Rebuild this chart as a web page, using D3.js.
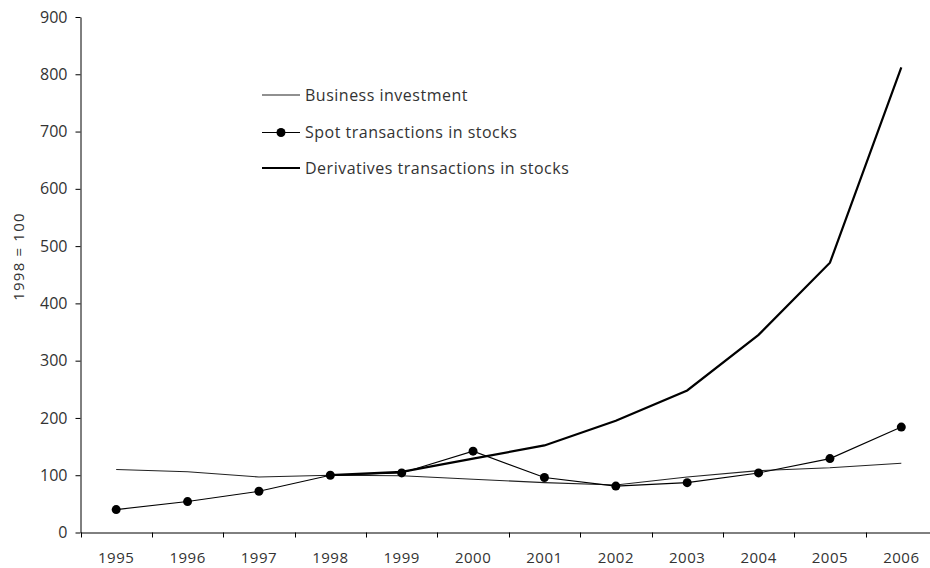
<!DOCTYPE html>
<html><head><meta charset="utf-8">
<script src="https://cdn.jsdelivr.net/npm/d3@7"></script>
<style>body{margin:0;background:#fff}svg{display:block}text{font-family:"Open Sans",sans-serif}</style>
</head><body><svg id="c" width="930" height="568"></svg>
<script>
const years = ["1995","1996","1997","1998","1999","2000","2001","2002","2003","2004","2005","2006"];
const businessInvestment = [110,106,97,100,99,93,87,83,97,108,113,121];
const spotStocks = [40,54,72,100,104,142,96,81,87,104,129,184];
const derivStocks = [null,null,null,100,106,129,152,195,248,345,471,812];
const yTicks = [0,100,200,300,400,500,600,700,800,900];
const seriesNames = ["Business investment","Spot transactions in stocks","Derivatives transactions in stocks"];

const svg = d3.select("#c");
const x = d3.scaleBand().domain(years).range([80.5, 937]);
const y = d3.scaleLinear().domain([0,900]).range([532.5, 17]);
const cx = d => x(d) + x.bandwidth()/2;

const ya = svg.append("g").attr("transform","translate(80.5,0)")
  .call(d3.axisLeft(y).tickValues(yTicks).tickSize(5).tickPadding(8).tickSizeOuter(0));
const xa = svg.append("g").attr("transform","translate(0,532.5)")
  .call(d3.axisBottom(x).tickSize(0).tickPadding(20).tickSizeOuter(0));
xa.selectAll(".bd").data(years).enter().append("line")
  .attr("x1", d => Math.round(x(d))+0.5).attr("x2", d => Math.round(x(d))+0.5)
  .attr("y1",0).attr("y2",5).attr("stroke","#000");
[ya,xa].forEach(a=>{a.select(".domain").attr("stroke","#000");a.selectAll(".tick line").attr("stroke","#000");
  a.selectAll("text").attr("fill","#333").style("font-size","16px");});
xa.selectAll("text").style("font-size","15px").style("letter-spacing","0.5px");

svg.append("text").attr("transform","translate(18.5,256.5) rotate(-90)").attr("text-anchor","middle")
  .attr("dy","0.35em").attr("fill","#333").style("font-size","15px").style("letter-spacing","1.2px").text("1998 = 100");

const line = d3.line().defined(d=>d.v!=null).x(d=>cx(d.k)).y(d=>y(d.v));
const mk = arr => years.map((k,i)=>({k, v:arr[i]}));
svg.append("path").datum(mk(businessInvestment)).attr("d",line).attr("fill","none").attr("stroke","#222").attr("stroke-width",1.1);
svg.append("path").datum(mk(spotStocks)).attr("d",line).attr("fill","none").attr("stroke","#000").attr("stroke-width",1.1);
svg.selectAll(".dot").data(mk(spotStocks)).enter().append("circle")
  .attr("cx",d=>cx(d.k)).attr("cy",d=>y(d.v)).attr("r",4.5).attr("fill","#000");
svg.append("path").datum(mk(derivStocks)).attr("d",line).attr("fill","none").attr("stroke","#000").attr("stroke-width",2.2);

const lg = svg.append("g");
const rows = [95, 132.5, 168];
seriesNames.forEach((n,i)=>{
  lg.append("line").attr("x1",262).attr("x2",300).attr("y1",rows[i]).attr("y2",rows[i])
    .attr("stroke", i==0?"#222":"#000").attr("stroke-width", i==2?2.2:1.1);
  if(i==1) lg.append("circle").attr("cx",281).attr("cy",rows[i]).attr("r",4.5).attr("fill","#000");
  lg.append("text").attr("x",305).attr("y",rows[i]).attr("dy","0.35em").attr("fill","#333")
    .style("font-size","16px").style("letter-spacing","0.5px").text(n);
});
</script></body></html>
